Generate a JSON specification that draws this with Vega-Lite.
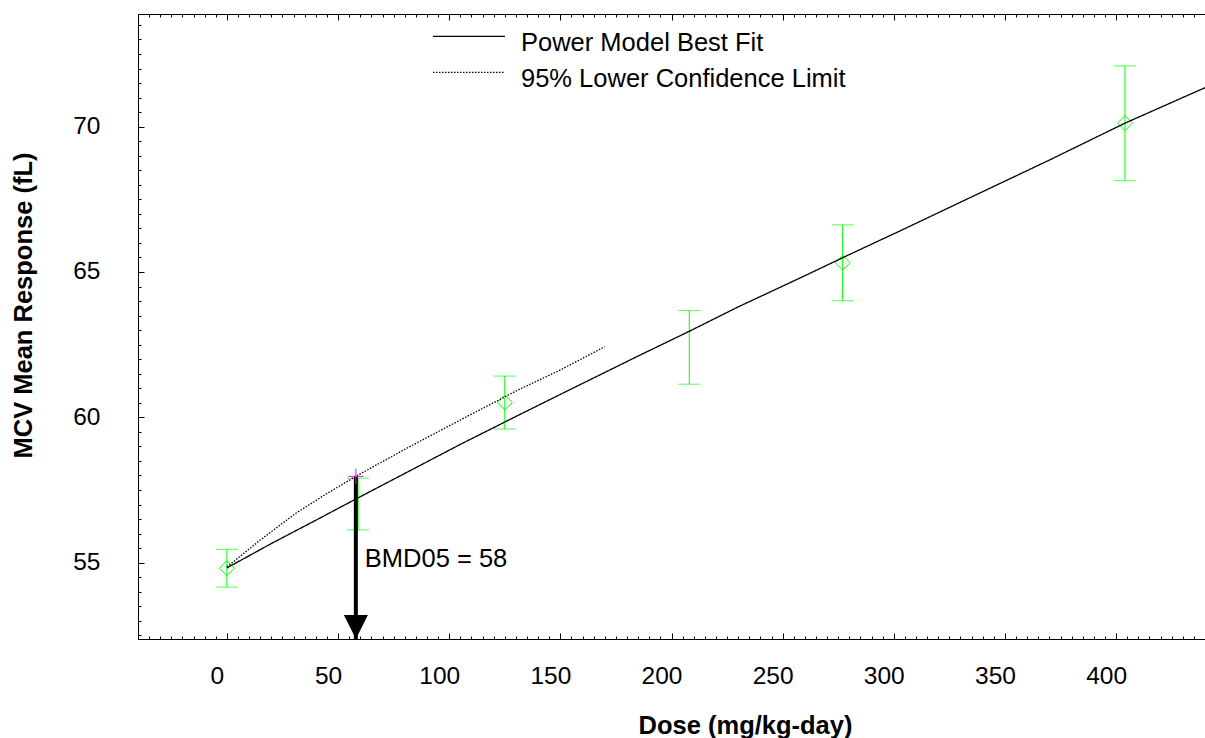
{
  "$schema": "https://vega.github.io/schema/vega-lite/v6.json",
  "width": 1067,
  "height": 625,
  "autosize": {"type": "none"},
  "padding": {"left": 138, "top": 14, "right": 0, "bottom": 99},
  "background": "white",
  "config": {
    "view": {"stroke": null},
    "font": "Liberation Sans",
    "axis": {
      "grid": false,
      "domainColor": "black",
      "domainWidth": 1,
      "tickColor": "black",
      "tickWidth": 1,
      "labelColor": "black",
      "titleColor": "black",
      "labelFont": "Liberation Sans",
      "titleFont": "Liberation Sans",
      "labelFontSize": 24.5,
      "titleFontSize": 25.5,
      "titleFontWeight": "bold",
      "labelOverlap": false,
      "labelFlush": false,
      "labelBound": false
    }
  },
  "datasets": {
    "curves": [
      {"series": "Power Model Best Fit", "dose": 0, "resp": 54.82},
      {"series": "Power Model Best Fit", "dose": 20, "resp": 55.66},
      {"series": "Power Model Best Fit", "dose": 40, "resp": 56.46},
      {"series": "Power Model Best Fit", "dose": 58, "resp": 57.19},
      {"series": "Power Model Best Fit", "dose": 80, "resp": 58.07},
      {"series": "Power Model Best Fit", "dose": 105, "resp": 59.07},
      {"series": "Power Model Best Fit", "dose": 130, "resp": 60.03},
      {"series": "Power Model Best Fit", "dose": 150, "resp": 60.79},
      {"series": "Power Model Best Fit", "dose": 185, "resp": 62.11},
      {"series": "Power Model Best Fit", "dose": 208, "resp": 62.96},
      {"series": "Power Model Best Fit", "dose": 230, "resp": 63.8},
      {"series": "Power Model Best Fit", "dose": 258, "resp": 64.8},
      {"series": "Power Model Best Fit", "dose": 280, "resp": 65.6},
      {"series": "Power Model Best Fit", "dose": 303, "resp": 66.42},
      {"series": "Power Model Best Fit", "dose": 333, "resp": 67.51},
      {"series": "Power Model Best Fit", "dose": 370, "resp": 68.85},
      {"series": "Power Model Best Fit", "dose": 404, "resp": 70.12},
      {"series": "Power Model Best Fit", "dose": 440, "resp": 71.34},
      {"series": "95% Lower Confidence Limit", "dose": 0, "resp": 54.85},
      {"series": "95% Lower Confidence Limit", "dose": 15, "resp": 55.78},
      {"series": "95% Lower Confidence Limit", "dose": 31, "resp": 56.7},
      {"series": "95% Lower Confidence Limit", "dose": 45, "resp": 57.38},
      {"series": "95% Lower Confidence Limit", "dose": 58, "resp": 57.97},
      {"series": "95% Lower Confidence Limit", "dose": 80, "resp": 58.9},
      {"series": "95% Lower Confidence Limit", "dose": 105, "resp": 59.91},
      {"series": "95% Lower Confidence Limit", "dose": 132, "resp": 60.98},
      {"series": "95% Lower Confidence Limit", "dose": 150, "resp": 61.63},
      {"series": "95% Lower Confidence Limit", "dose": 170, "resp": 62.43}
    ],
    "groups": [
      {"dose": 0, "mean": 54.81, "lower": 54.16, "upper": 55.46},
      {"dose": 59, "mean": 57.02, "lower": 56.13, "upper": 57.91},
      {"dose": 125, "mean": 60.51, "lower": 59.6, "upper": 61.42},
      {"dose": 208, "mean": 62.4, "lower": 61.14, "upper": 63.67},
      {"dose": 277, "mean": 65.32, "lower": 64.01, "upper": 66.62},
      {"dose": 404, "mean": 70.12, "lower": 68.14, "upper": 72.09}
    ],
    "bmd": [
      {"dose": 58, "resp": 57.97, "floor": 52.375, "label": "BMD05 = 58", "label_resp": 54.86}
    ]
  },
  "layer": [
    {
      "data": {"name": "groups"},
      "mark": {"type": "rule", "color": "#00ff00", "strokeWidth": 1},
      "encoding": {
        "x": {
          "field": "dose", "type": "quantitative",
          "scale": {"domain": [-40, 440], "nice": false, "zero": false},
          "axis": {
            "orient": "top",
            "values": [-40,-35,-30,-25,-20,-15,-10,-5,0,5,10,15,20,25,30,35,40,45,50,55,60,65,70,75,80,85,90,95,100,105,110,115,120,125,130,135,140,145,150,155,160,165,170,175,180,185,190,195,200,205,210,215,220,225,230,235,240,245,250,255,260,265,270,275,280,285,290,295,300,305,310,315,320,325,330,335,340,345,350,355,360,365,370,375,380,385,390,395,400,405,410,415,420,425,430,435],
            "tickSize": {"condition": {"test": "datum.value % 50 === 0", "value": -6}, "value": -3},
            "labels": false,
            "title": null
          }
        },
        "y": {
          "field": "lower", "type": "quantitative",
          "scale": {"domain": [52.375, 73.875], "nice": false, "zero": false},
          "axis": null
        },
        "y2": {"field": "upper"}
      }
    },
    {
      "data": {"name": "groups"},
      "transform": [{"fold": ["lower", "upper"], "as": ["bound", "val"]}],
      "mark": {"type": "tick", "orient": "horizontal", "color": "#00ff00", "size": 22, "thickness": 1},
      "encoding": {
        "x": {"field": "dose", "type": "quantitative", "scale": {"domain": [-40, 440], "nice": false, "zero": false}, "axis": null},
        "y": {"field": "val", "type": "quantitative", "scale": {"domain": [52.375, 73.875], "nice": false, "zero": false}, "axis": null}
      }
    },
    {
      "data": {"name": "groups"},
      "transform": [{"filter": "datum.dose != 59 && datum.dose != 208"}],
      "mark": {"type": "point", "shape": "diamond", "size": 225, "filled": false, "stroke": "#00ff00", "strokeWidth": 1, "opacity": 1},
      "encoding": {
        "x": {"field": "dose", "type": "quantitative", "scale": {"domain": [-40, 440], "nice": false, "zero": false}, "axis": null},
        "y": {"field": "mean", "type": "quantitative", "scale": {"domain": [52.375, 73.875], "nice": false, "zero": false}, "axis": null}
      }
    },
    {
      "data": {"name": "curves"},
      "mark": {"type": "line", "color": "black", "strokeWidth": 1.3},
      "encoding": {
        "x": {
          "field": "dose", "type": "quantitative",
          "scale": {"domain": [-40, 440], "nice": false, "zero": false},
          "axis": {
            "orient": "bottom",
            "values": [-40,-35,-30,-25,-20,-15,-10,-5,0,5,10,15,20,25,30,35,40,45,50,55,60,65,70,75,80,85,90,95,100,105,110,115,120,125,130,135,140,145,150,155,160,165,170,175,180,185,190,195,200,205,210,215,220,225,230,235,240,245,250,255,260,265,270,275,280,285,290,295,300,305,310,315,320,325,330,335,340,345,350,355,360,365,370,375,380,385,390,395,400,405,410,415,420,425,430,435],
            "tickSize": {"condition": {"test": "datum.value % 50 === 0", "value": -6}, "value": -3},
            "labelExpr": "datum.value % 50 === 0 ? '' + datum.value : ''",
            "labelPadding": 31,
            "labelOffset": -10,
            "title": "Dose (mg/kg-day)",
            "titleX": 607,
            "titleY": 94,
            "titleAlign": "center",
            "titleBaseline": "alphabetic"
          }
        },
        "y": {
          "field": "resp", "type": "quantitative",
          "scale": {"domain": [52.375, 73.875], "nice": false, "zero": false},
          "axis": {
            "orient": "left",
            "values": [52.5,53,53.5,54,54.5,55,55.5,56,56.5,57,57.5,58,58.5,59,59.5,60,60.5,61,61.5,62,62.5,63,63.5,64,64.5,65,65.5,66,66.5,67,67.5,68,68.5,69,69.5,70,70.5,71,71.5,72,72.5,73,73.5],
            "tickSize": {"condition": {"test": "datum.value % 5 === 0", "value": -6}, "value": -3},
            "labelExpr": "datum.value % 5 === 0 ? '' + datum.value : ''",
            "labelPadding": 44,
            "title": "MCV Mean Response (fL)",
            "titleX": -115,
            "titleY": 291,
            "titleAngle": 270,
            "titleAlign": "center",
            "titleBaseline": "middle"
          }
        },
        "strokeDash": {
          "field": "series", "type": "nominal",
          "scale": {"domain": ["Power Model Best Fit", "95% Lower Confidence Limit"], "range": [[1, 0], [1.5, 1.5]]},
          "legend": {
            "orient": "none",
            "legendX": 318,
            "legendY": 16,
            "title": null,
            "padding": 0,
            "symbolType": "M-3,-0.55L3,-0.55",
            "symbolSize": 576,
            "symbolStrokeColor": "black",
            "symbolStrokeWidth": 1.2,
            "symbolFillColor": "transparent",
            "labelFont": "Liberation Sans",
            "labelFontSize": 25.5,
            "labelColor": "black",
            "labelOffset": 39,
            "labelLimit": 600,
            "rowPadding": 9
          }
        }
      }
    },
    {
      "data": {"name": "bmd"},
      "mark": {"type": "rule", "color": "black", "strokeWidth": 4},
      "encoding": {
        "x": {"field": "dose", "type": "quantitative", "scale": {"domain": [-40, 440], "nice": false, "zero": false}, "axis": null},
        "y": {"field": "resp", "type": "quantitative", "scale": {"domain": [52.375, 73.875], "nice": false, "zero": false}, "axis": null},
        "y2": {"field": "floor"}
      }
    },
    {
      "data": {"name": "bmd"},
      "mark": {"type": "point", "shape": "M-1,-2L1,-2L0,0Z", "size": 576, "filled": true, "color": "black", "opacity": 1},
      "encoding": {
        "x": {"field": "dose", "type": "quantitative", "scale": {"domain": [-40, 440], "nice": false, "zero": false}, "axis": null},
        "y": {"field": "floor", "type": "quantitative", "scale": {"domain": [52.375, 73.875], "nice": false, "zero": false}, "axis": null}
      }
    },
    {
      "data": {"name": "bmd"},
      "mark": {"type": "point", "shape": "M-1,0L1,0M0,-1L0,1", "size": 225, "filled": false, "stroke": "#ff00ff", "strokeWidth": 1, "opacity": 1},
      "encoding": {
        "x": {"field": "dose", "type": "quantitative", "scale": {"domain": [-40, 440], "nice": false, "zero": false}, "axis": null},
        "y": {"field": "resp", "type": "quantitative", "scale": {"domain": [52.375, 73.875], "nice": false, "zero": false}, "axis": null}
      }
    },
    {
      "data": {"name": "bmd"},
      "mark": {"type": "text", "align": "left", "baseline": "alphabetic", "dx": 9, "fontSize": 25.5, "font": "Liberation Sans", "color": "black"},
      "encoding": {
        "x": {"field": "dose", "type": "quantitative", "scale": {"domain": [-40, 440], "nice": false, "zero": false}, "axis": null},
        "y": {"field": "label_resp", "type": "quantitative", "scale": {"domain": [52.375, 73.875], "nice": false, "zero": false}, "axis": null},
        "text": {"field": "label"}
      }
    }
  ],
  "resolve": {"axis": {"x": "independent", "y": "independent"}}
}
